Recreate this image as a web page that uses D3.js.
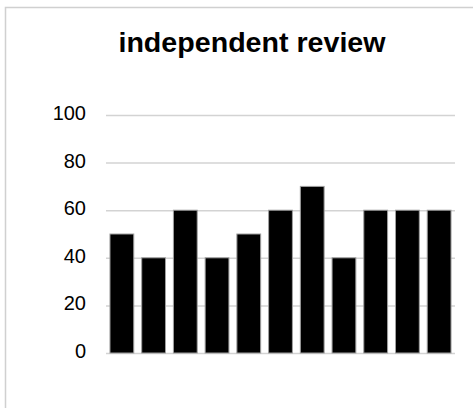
<!DOCTYPE html>
<html><head><meta charset="utf-8">
<script src="https://cdn.jsdelivr.net/npm/d3@7"></script>
<style>html,body{margin:0;padding:0;background:#fff;}svg{display:block;}</style>
</head><body><div id="chart"></div>
<script>
const title = "independent review";
const categories = ["1","2","3","4","5","6","7","8","9","10","11"];
const values = [50,40,60,40,50,60,70,40,60,60,60];
const yTicks = [0,20,40,60,80,100];

const W = 473, H = 408;
const svg = d3.select("#chart").append("svg").attr("width", W).attr("height", H);
svg.append("rect").attr("width", W).attr("height", H).attr("fill", "#fff");
svg.append("rect").attr("x", 5.5).attr("y", 7.5).attr("width", 600).attr("height", 600)
  .attr("fill", "none").attr("stroke", "#d0d0d0").attr("stroke-width", 1.5);

const x = d3.scaleBand().domain(categories).range([106, 455]).paddingInner(0.25).paddingOuter(0.125);
const y = d3.scaleLinear().domain([0, 100]).range([353, 115]);

const yAxis = d3.axisLeft(y).tickValues(yTicks).tickSize(-(455 - 106)).tickPadding(20);
const g = svg.append("g").attr("transform", "translate(106,0)").call(yAxis);
g.select(".domain").remove();
g.selectAll(".tick line").attr("stroke", "#d3d3d3").attr("stroke-width", 1.5);
g.selectAll(".tick text").attr("fill", "#000").attr("dy", "0.22em")
  .style("font-family", "Liberation Sans, Arial, sans-serif").style("font-size", "20px");

svg.append("g").selectAll("rect").data(values).join("rect")
  .attr("x", (d, i) => x(categories[i]))
  .attr("y", d => y(d))
  .attr("width", x.bandwidth())
  .attr("height", d => y(0) - y(d))
  .attr("fill", "#000").attr("stroke", "#a0a0a0").attr("stroke-width", 1);

svg.append("text").attr("transform", "translate(252,51.5) scale(1.06,1)").attr("text-anchor", "middle")
  .style("font-family", "Liberation Sans, Arial, sans-serif").style("font-size", "27px").style("font-weight", "bold")
  .text(title);
</script></body></html>
